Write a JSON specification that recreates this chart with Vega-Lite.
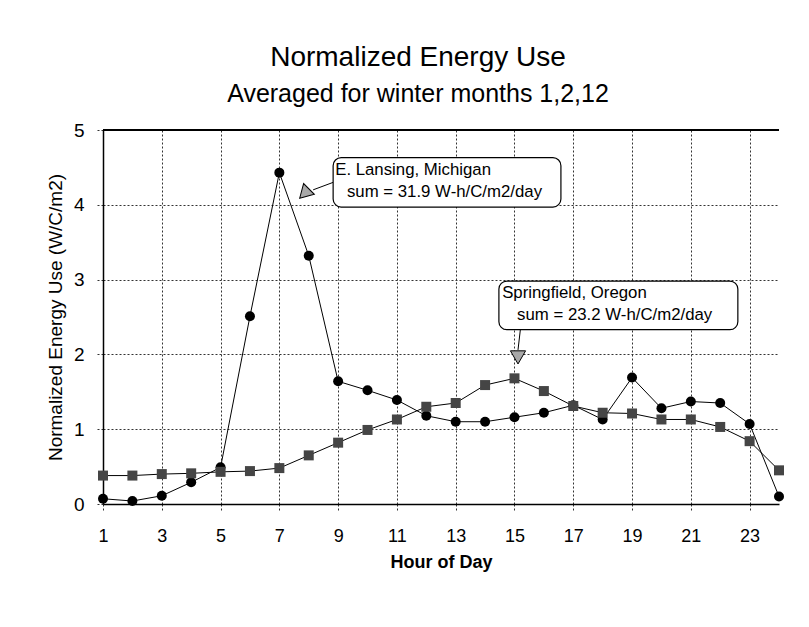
{
  "$schema": "https://vega.github.io/schema/vega-lite/v6.json",
  "width": 676,
  "height": 374,
  "autosize": {"type": "none"},
  "padding": {"left": 103, "top": 130, "right": 30, "bottom": 123},
  "background": "white",
  "config": {"font": "Liberation Sans", "view": {"stroke": null}},
  "title": {
    "text": "Normalized Energy Use",
    "subtitle": "Averaged for winter months 1,2,12",
    "font": "Liberation Sans",
    "subtitleFont": "Liberation Sans",
    "fontSize": 28,
    "fontWeight": "normal",
    "subtitleFontSize": 25,
    "color": "black",
    "subtitleColor": "black",
    "anchor": "middle",
    "dx": -23,
    "offset": 14,
    "subtitlePadding": 10
  },
  "datasets": {
    "series": [
      {"hour": 1, "value": 0.07, "city": "E. Lansing, Michigan"},
      {"hour": 2, "value": 0.04, "city": "E. Lansing, Michigan"},
      {"hour": 3, "value": 0.11, "city": "E. Lansing, Michigan"},
      {"hour": 4, "value": 0.29, "city": "E. Lansing, Michigan"},
      {"hour": 5, "value": 0.49, "city": "E. Lansing, Michigan"},
      {"hour": 6, "value": 2.51, "city": "E. Lansing, Michigan"},
      {"hour": 7, "value": 4.43, "city": "E. Lansing, Michigan"},
      {"hour": 8, "value": 3.32, "city": "E. Lansing, Michigan"},
      {"hour": 9, "value": 1.64, "city": "E. Lansing, Michigan"},
      {"hour": 10, "value": 1.52, "city": "E. Lansing, Michigan"},
      {"hour": 11, "value": 1.39, "city": "E. Lansing, Michigan"},
      {"hour": 12, "value": 1.18, "city": "E. Lansing, Michigan"},
      {"hour": 13, "value": 1.10, "city": "E. Lansing, Michigan"},
      {"hour": 14, "value": 1.10, "city": "E. Lansing, Michigan"},
      {"hour": 15, "value": 1.16, "city": "E. Lansing, Michigan"},
      {"hour": 16, "value": 1.22, "city": "E. Lansing, Michigan"},
      {"hour": 17, "value": 1.32, "city": "E. Lansing, Michigan"},
      {"hour": 18, "value": 1.13, "city": "E. Lansing, Michigan"},
      {"hour": 19, "value": 1.69, "city": "E. Lansing, Michigan"},
      {"hour": 20, "value": 1.28, "city": "E. Lansing, Michigan"},
      {"hour": 21, "value": 1.37, "city": "E. Lansing, Michigan"},
      {"hour": 22, "value": 1.35, "city": "E. Lansing, Michigan"},
      {"hour": 23, "value": 1.07, "city": "E. Lansing, Michigan"},
      {"hour": 24, "value": 0.10, "city": "E. Lansing, Michigan"},
      {"hour": 1, "value": 0.38, "city": "Springfield, Oregon"},
      {"hour": 2, "value": 0.38, "city": "Springfield, Oregon"},
      {"hour": 3, "value": 0.40, "city": "Springfield, Oregon"},
      {"hour": 4, "value": 0.41, "city": "Springfield, Oregon"},
      {"hour": 5, "value": 0.43, "city": "Springfield, Oregon"},
      {"hour": 6, "value": 0.44, "city": "Springfield, Oregon"},
      {"hour": 7, "value": 0.48, "city": "Springfield, Oregon"},
      {"hour": 8, "value": 0.65, "city": "Springfield, Oregon"},
      {"hour": 9, "value": 0.82, "city": "Springfield, Oregon"},
      {"hour": 10, "value": 0.99, "city": "Springfield, Oregon"},
      {"hour": 11, "value": 1.13, "city": "Springfield, Oregon"},
      {"hour": 12, "value": 1.30, "city": "Springfield, Oregon"},
      {"hour": 13, "value": 1.35, "city": "Springfield, Oregon"},
      {"hour": 14, "value": 1.59, "city": "Springfield, Oregon"},
      {"hour": 15, "value": 1.68, "city": "Springfield, Oregon"},
      {"hour": 16, "value": 1.51, "city": "Springfield, Oregon"},
      {"hour": 17, "value": 1.31, "city": "Springfield, Oregon"},
      {"hour": 18, "value": 1.22, "city": "Springfield, Oregon"},
      {"hour": 19, "value": 1.21, "city": "Springfield, Oregon"},
      {"hour": 20, "value": 1.13, "city": "Springfield, Oregon"},
      {"hour": 21, "value": 1.13, "city": "Springfield, Oregon"},
      {"hour": 22, "value": 1.03, "city": "Springfield, Oregon"},
      {"hour": 23, "value": 0.84, "city": "Springfield, Oregon"},
      {"hour": 24, "value": 0.45, "city": "Springfield, Oregon"}
    ],
    "boxes": [
      {"hour": 8.83, "hour2": 16.58, "value": 4.63, "value2": 3.97},
      {"hour": 14.47, "hour2": 22.6, "value": 2.98, "value2": 2.33}
    ],
    "connectors": [
      {"hour": 8.83, "hour2": 8.15, "value": 4.30, "value2": 4.20},
      {"hour": 15.2, "hour2": 15.12, "value": 2.33, "value2": 2.06}
    ],
    "pointers": [
      {"hour": 7.85, "value": 4.15, "angle": 225},
      {"hour": 15.12, "value": 1.96, "angle": 180}
    ],
    "labels": [
      {"hour": 8.9, "value": 4.40, "label": "E. Lansing, Michigan"},
      {"hour": 9.3, "value": 4.10, "label": "sum = 31.9 W-h/C/m2/day"},
      {"hour": 14.58, "value": 2.75, "label": "Springfield, Oregon"},
      {"hour": 15.09, "value": 2.46, "label": "sum = 23.2 W-h/C/m2/day"}
    ]
  },
  "layer": [
    {
      "data": {"name": "series"},
      "mark": {"type": "line", "color": "black", "strokeWidth": 1},
      "encoding": {
        "x": {
          "field": "hour", "type": "quantitative",
          "scale": {"domain": [1, 24], "nice": false, "zero": false},
          "axis": {
            "title": "Hour of Day",
            "titleFontSize": 18, "titleFontWeight": "bold", "titleColor": "black", "titlePadding": 8,
            "values": [1,2,3,4,5,6,7,8,9,10,11,12,13,14,15,16,17,18,19,20,21,22,23,24],
            "labelExpr": "datum.value % 2 === 1 ? datum.label : ''",
            "labelFontSize": 18, "labelColor": "black", "labelPadding": 17,
            "labelFlush": false,
            "domainColor": "black", "domainWidth": 1.5,
            "grid": true, "gridColor": "#333", "gridDash": [2, 2], "gridWidth": 1,
            "ticks": true, "tickSize": 6, "tickColor": "#333", "tickDash": [2, 2]
          }
        },
        "y": {
          "field": "value", "type": "quantitative",
          "scale": {"domain": [0, 5], "nice": false, "zero": true},
          "axis": {
            "title": "Normalized Energy Use (W/C/m2)",
            "titleFontSize": 19, "titleFontWeight": "normal", "titleColor": "black", "titlePadding": 8,
            "values": [0,0.5,1,1.5,2,2.5,3,3.5,4,4.5,5],
            "format": "~g",
            "labelExpr": "datum.value % 1 === 0 ? datum.label : ''",
            "labelFontSize": 19, "labelColor": "black", "labelPadding": 13,
            "labelFlush": false,
            "domainColor": "black", "domainWidth": 1.5,
            "grid": true, "gridColor": "#333", "gridDash": [2, 2], "gridWidth": 1,
            "ticks": true, "tickSize": 6, "tickColor": "#333", "tickDash": [2, 2]
          }
        },
        "detail": {"field": "city"}
      }
    },
    {
      "data": {"name": "series"},
      "mark": {"type": "rule", "color": "black", "strokeWidth": 1.5},
      "encoding": {"y": {"datum": 5}}
    },
    {
      "data": {"name": "series"},
      "mark": {"type": "point", "filled": true, "opacity": 1, "size": 100},
      "encoding": {
        "x": {"field": "hour", "type": "quantitative"},
        "y": {"field": "value", "type": "quantitative"},
        "shape": {"field": "city", "type": "nominal", "scale": {"domain": ["E. Lansing, Michigan", "Springfield, Oregon"], "range": ["circle", "square"]}, "legend": null},
        "color": {"field": "city", "type": "nominal", "scale": {"domain": ["E. Lansing, Michigan", "Springfield, Oregon"], "range": ["#000000", "#454545"]}, "legend": null}
      }
    },
    {
      "data": {"name": "connectors"},
      "mark": {"type": "rule", "color": "black", "strokeWidth": 1},
      "encoding": {
        "x": {"field": "hour", "type": "quantitative"},
        "x2": {"field": "hour2"},
        "y": {"field": "value", "type": "quantitative"},
        "y2": {"field": "value2"}
      }
    },
    {
      "data": {"name": "pointers"},
      "mark": {"type": "point", "shape": "triangle-up", "filled": true, "fill": "#a8a8a8", "stroke": "black", "strokeWidth": 1, "size": 230, "opacity": 1},
      "encoding": {
        "x": {"field": "hour", "type": "quantitative"},
        "y": {"field": "value", "type": "quantitative"},
        "angle": {"field": "angle", "type": "quantitative", "scale": null}
      }
    },
    {
      "data": {"name": "boxes"},
      "mark": {"type": "rect", "fill": "white", "stroke": "black", "strokeWidth": 1.2, "cornerRadius": 8},
      "encoding": {
        "x": {"field": "hour", "type": "quantitative"},
        "x2": {"field": "hour2"},
        "y": {"field": "value", "type": "quantitative"},
        "y2": {"field": "value2"}
      }
    },
    {
      "data": {"name": "labels"},
      "mark": {"type": "text", "align": "left", "baseline": "alphabetic", "fontSize": 16.8, "color": "black", "font": "Liberation Sans"},
      "encoding": {
        "x": {"field": "hour", "type": "quantitative"},
        "y": {"field": "value", "type": "quantitative"},
        "text": {"field": "label"}
      }
    }
  ]
}
